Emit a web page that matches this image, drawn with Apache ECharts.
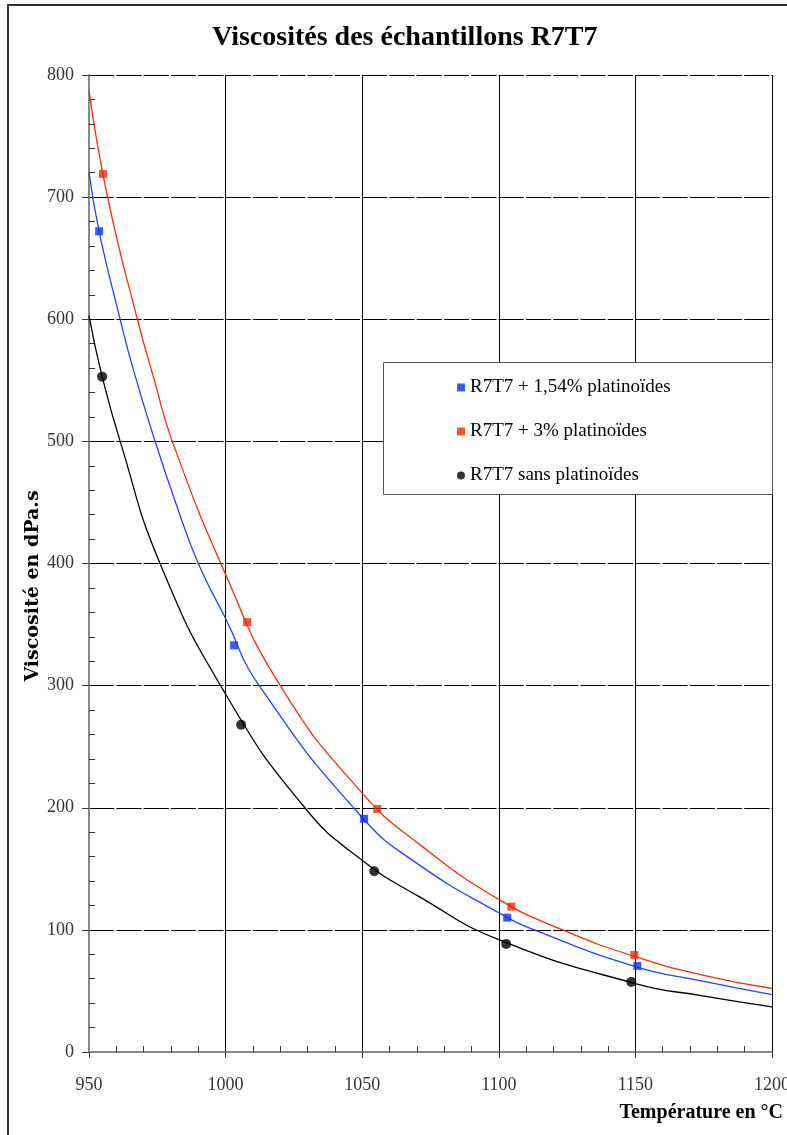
<!DOCTYPE html>
<html lang="fr">
    <head>
        <meta charset="UTF-8"/>
        <script src="https://cdn.jsdelivr.net/npm/echarts@6/dist/echarts.min.js"></script>
        <title>Viscosités</title>
        <style>
            html, body { margin: 0; padding: 0; background: #fff; }
        </style>
    </head>
    <body>
        <div id="main" style="width: 787px;height:1135px;"></div>
        <script type="text/javascript">

            // points mesurés
            var blueX = [953.7, 1003.1, 1050.7, 1103.1, 1150.7];
            var blueY = [672, 333, 191, 110, 70.5];
            var redX = [955.1, 1007.9, 1055.5, 1104.6, 1149.6];
            var redY = [719, 352, 199, 119, 79.5];
            var blackX = [954.8, 1005.7, 1054.4, 1102.7, 1148.5];
            var blackY = [553, 268, 148, 88.5, 57.4];

            // courbes de tendance [T, viscosité]
            var blueCurve = [[950, 720], [953.7, 672], [961.4, 600], [966.2, 559], [974.2, 500], [981.7, 450],
                [990, 400], [1000, 355], [1012.3, 300], [1050, 192], [1071, 153],
                [1100, 114], [1113, 100], [1150, 70], [1174.6, 58], [1200, 47]];
            var redCurve = [[950, 787], [956.8, 700], [967.7, 600], [973.8, 551], [980.5, 500],
                [1000, 391], [1020, 300], [1050, 212], [1071, 170],
                [1100, 125], [1123.4, 100], [1150, 78], [1174.6, 63], [1200, 52]];
            var blackCurve = [[950, 603], [954.8, 553], [961.4, 500], [976, 400],
                [1000, 293], [1029, 200], [1050, 157], [1071, 127], [1100, 92],
                [1150, 56], [1174.6, 46], [1200, 37]];

            var names = ['R7T7 + 1,54% platinoïdes', 'R7T7 + 3% platinoïdes', 'R7T7 sans platinoïdes'];

            function pairs(xs, ys) {
                return xs.map(function (x, i) { return [x, ys[i]]; });
            }

            var serif = '"Liberation Serif", "DejaVu Serif", serif';
            var myChart = echarts.init(document.getElementById('main'));

            var option = {
                backgroundColor: '#fff',
                animation: false,
                title: {
                    text: 'Viscosités des échantillons R7T7',
                    left: 207,
                    top: 19,
                    textStyle: { fontFamily: serif, fontSize: 28, fontWeight: 'bold', color: '#000' }
                },
                grid: { left: 89, top: 75, width: 683, height: 977, outerBoundsMode: 'none', containLabel: false },
                legend: {
                    orient: 'vertical',
                    left: 452,
                    top: 373,
                    itemGap: 25,
                    itemWidth: 8,
                    itemHeight: 8,
                    textStyle: { fontFamily: serif, fontSize: 19, color: '#000' },
                    data: [
                        { name: names[0], icon: 'rect' },
                        { name: names[1], icon: 'rect' },
                        { name: names[2], icon: 'circle' }
                    ]
                },
                graphic: [
                    { type: 'rect', shape: { x: 8, y: 5, width: 820, height: 1200 }, style: { fill: null, stroke: '#333', lineWidth: 2 }, z: 100 },
                    { type: 'rect', shape: { x: 383.5, y: 362.5, width: 389, height: 132 }, style: { fill: '#fff', stroke: '#555', lineWidth: 1 }, z: 1 },
                    { type: 'text', right: 4, top: 1103, style: { text: 'Température en °C', font: 'bold 20px ' + serif, fill: '#000' } },
                    {
                        type: 'text', x: 33, y: 586, rotation: Math.PI / 2,
                        style: { text: 'Viscosité en dPa.s', font: 'bold 19px "DejaVu Serif", serif', fill: '#000', align: 'center', verticalAlign: 'middle' }
                    }
                ],
                xAxis: [{
                    type: 'value',
                    position: 'bottom',
                    min: 950, max: 1200, interval: 50,
                    axisLine: { lineStyle: { color: '#888', width: 2 } },
                    axisTick: { length: 6, lineStyle: { color: '#333' } },
                    axisLabel: { margin: 24, fontFamily: serif, fontSize: 18, color: '#333', formatter: function (v) { return String(v); } },
                    splitLine: { show: true, lineStyle: { color: '#000', width: 1 } }
                }, {
                    type: 'value',
                    position: 'bottom',
                    min: 950, max: 1200, interval: 50,
                    axisLine: { show: false },
                    axisTick: { show: false, inside: true },
                    minorTick: { show: true, splitNumber: 5, length: 6, lineStyle: { color: '#333' } },
                    axisLabel: { show: false },
                    splitLine: { show: false }
                }],
                yAxis: [{
                    type: 'value',
                    position: 'left',
                    min: 0, max: 800, interval: 100,
                    axisLine: { show: true, lineStyle: { color: '#888', width: 2 } },
                    axisTick: { show: true, length: 7, lineStyle: { color: '#333' } },
                    axisLabel: { margin: 15, fontFamily: serif, fontSize: 18, color: '#333' },
                    splitLine: { show: true, lineStyle: { color: '#000', width: 1, type: [25.3, 2] } }
                }, {
                    type: 'value',
                    position: 'left',
                    min: 0, max: 800, interval: 100,
                    axisLine: { show: false },
                    axisTick: { show: false, inside: true },
                    minorTick: { show: true, splitNumber: 5, length: 6, lineStyle: { color: '#333' } },
                    axisLabel: { show: false },
                    splitLine: { show: false }
                }],
                series: [
                    { name: 'c-bleu', type: 'line', data: blueCurve, smooth: 0.5, showSymbol: false, lineStyle: { color: '#2040ff', width: 1.3 }, z: 3 },
                    { name: 'c-rouge', type: 'line', data: redCurve, smooth: 0.5, showSymbol: false, lineStyle: { color: '#ff2a00', width: 1.3 }, z: 3 },
                    { name: 'c-noir', type: 'line', data: blackCurve, smooth: 0.5, showSymbol: false, lineStyle: { color: '#000', width: 1.3 }, z: 3 },
                    { name: names[0], type: 'scatter', data: pairs(blueX, blueY), symbol: 'rect', symbolSize: 8, itemStyle: { color: '#0a32ff' }, z: 5 },
                    { name: names[1], type: 'scatter', data: pairs(redX, redY), symbol: 'rect', symbolSize: 8, itemStyle: { color: '#ff2200' }, z: 5 },
                    { name: names[2], type: 'scatter', data: pairs(blackX, blackY), symbol: 'circle', symbolSize: 10, itemStyle: { color: '#000' }, z: 5 }
                ]
            };

            myChart.setOption(option);

        </script>
    </body>
</html>
